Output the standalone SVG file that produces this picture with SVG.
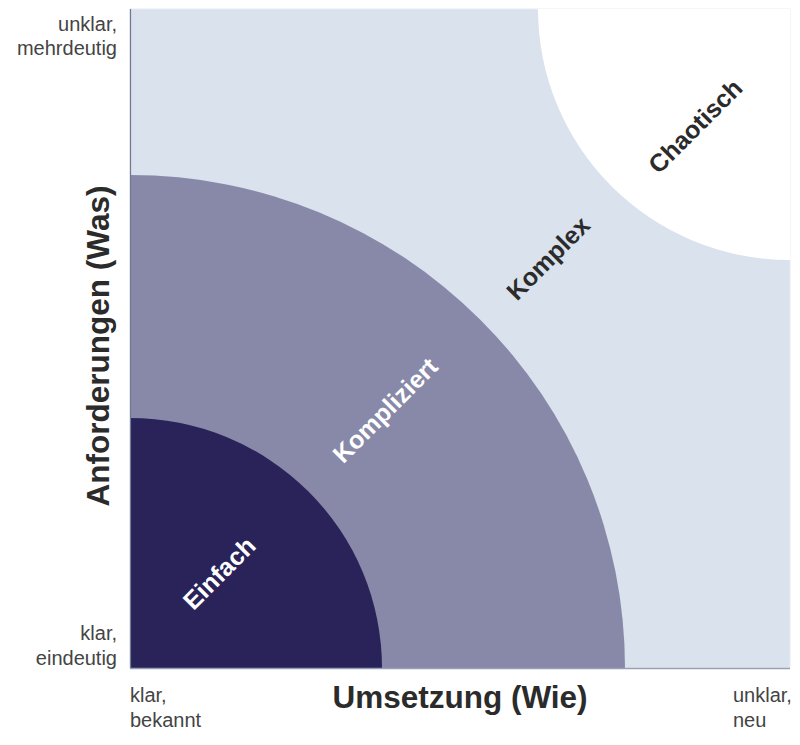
<svg xmlns="http://www.w3.org/2000/svg" width="800" height="745" viewBox="0 0 800 745">
<style>
.ax{font-family:"Liberation Sans",Arial,sans-serif;font-weight:bold;font-size:31.5px;fill:#2b2b2b}
.lb{font-family:"Liberation Sans",Arial,sans-serif;font-size:20px;fill:#444}
.zn{font-family:"Liberation Sans",Arial,sans-serif;font-weight:bold;font-size:25px;text-anchor:middle;dominant-baseline:central}
</style>
<rect x="0" y="0" width="800" height="745" fill="#fff"/>
<g id="komplex">
<rect x="130" y="9" width="660" height="659" fill="#d9e2ed" stroke="#e6ecf3" stroke-width="1"/>
<text class="zn" fill="#2b2b2b" transform="translate(548,258) rotate(-45)">Komplex</text>
</g>
<g id="chaotisch">
<path d="M790,9 L538,9 A252,251 0 0 0 790,260 Z" fill="#fff"/>
<text class="zn" fill="#2b2b2b" transform="translate(695,126) rotate(-45)">Chaotisch</text>
</g>
<g id="kompliziert">
<path d="M130,668 L130,175 A495,493 0 0 1 625,668 Z" fill="#8889a9"/>
<text class="zn" fill="#fff" transform="translate(385,410) rotate(-45)">Kompliziert</text>
</g>
<g id="einfach">
<path d="M130,668 L130,418 A252,250 0 0 1 382,668 Z" fill="#29235a"/>
<text class="zn" fill="#fff" transform="translate(219,573) rotate(-45)">Einfach</text>
</g>
<g id="axes">
<line x1="130.5" y1="9" x2="130.5" y2="668.5" stroke="#6d7a90" stroke-width="1.2"/>
<line x1="130" y1="668.5" x2="790" y2="668.5" stroke="#96a0b4" stroke-width="1.5"/>
</g>
<g id="labels">
<text class="ax" text-anchor="middle" transform="translate(109,346) rotate(-90)">Anforderungen (Was)</text>
<text class="ax" x="460" y="708" text-anchor="middle">Umsetzung (Wie)</text>
<text class="lb" text-anchor="end"><tspan x="117" y="31">unklar,</tspan><tspan x="117" y="55">mehrdeutig</tspan></text>
<text class="lb" text-anchor="end"><tspan x="117" y="640">klar,</tspan><tspan x="117" y="665">eindeutig</tspan></text>
<text class="lb"><tspan x="130" y="702">klar,</tspan><tspan x="130" y="727">bekannt</tspan></text>
<text class="lb"><tspan x="733" y="702">unklar,</tspan><tspan x="733" y="727">neu</tspan></text>
</g>
</svg>
